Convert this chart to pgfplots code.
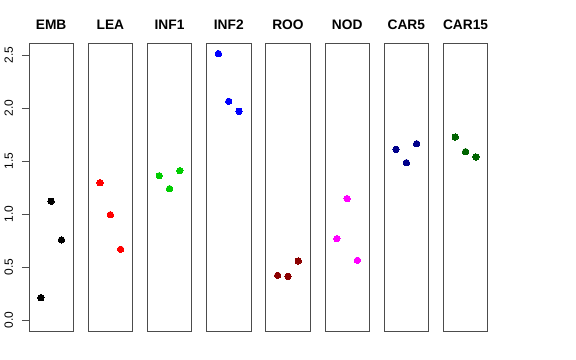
\documentclass[border=0pt]{standalone}
\usepackage{pgfplots}
\pgfplotsset{compat=1.18}
\usepackage{fontspec}
\setmainfont{Liberation Sans}
\definecolor{cblack}{HTML}{000000}
\definecolor{cred}{HTML}{FF0000}
\definecolor{cgreen}{HTML}{00CD00}
\definecolor{cblue}{HTML}{0000FF}
\definecolor{cdarkred}{HTML}{8B0000}
\definecolor{cmagenta}{HTML}{FF00FF}
\definecolor{cnavy}{HTML}{00008B}
\definecolor{cdkgreen}{HTML}{006400}
\pgfplotsset{panel/.style={scale only axis, width=44.5bp, height=288bp,
  xmin=-0.16, xmax=4.16, ymin=-0.104, ymax=2.613, xtick=\empty, ytick=\empty,
  anchor=south west, axis line style={line width=0.8bp, black!70},
  title style={at={(0.5,1)}, anchor=base, yshift=8bp, font=\bfseries\fontsize{13.8}{16}\selectfont}},
  pts/.style={only marks, mark=*, mark size=3.2bp, color=#1, mark options={draw=#1, fill=#1, line width=0pt}}}
\begin{document}
\begin{tikzpicture}
\path[use as bounding box] (0bp,0bp) rectangle (576bp,360bp);
\begin{axis}[panel, at={(28.9bp,29bp)}, title={EMB},
  ytick={0,0.5,1,1.5,2,2.5}, ytick pos=left, tick align=outside, major tick length=7bp,
  ytick style={black!70, line width=0.8bp},
  /pgf/number format/.cd, fixed, fixed zerofill, precision=1, assume math mode=true, /pgfplots/.cd,
  yticklabel style={xshift=-9bp, rotate=90, anchor=base, font=\fontsize{12}{14}\selectfont}]
\addplot[pts=cblack] coordinates {(1,0.21) (2,1.12) (3,0.755)};
\end{axis}
\begin{axis}[panel, at={(88.1bp,29bp)}, title={LEA}]
\addplot[pts=cred] coordinates {(1,1.295) (2,0.993) (3,0.667)};
\end{axis}
\begin{axis}[panel, at={(147.3bp,29bp)}, title={INF1}]
\addplot[pts=cgreen] coordinates {(1,1.361) (2,1.239) (3,1.409)};
\end{axis}
\begin{axis}[panel, at={(206.5bp,29bp)}, title={INF2}]
\addplot[pts=cblue] coordinates {(1,2.513) (2,2.063) (3,1.969)};
\end{axis}
\begin{axis}[panel, at={(265.7bp,29bp)}, title={ROO}]
\addplot[pts=cdarkred] coordinates {(1,0.421) (2,0.412) (3,0.557)};
\end{axis}
\begin{axis}[panel, at={(324.9bp,29bp)}, title={NOD}]
\addplot[pts=cmagenta] coordinates {(1,0.767) (2,1.145) (3,0.563)};
\end{axis}
\begin{axis}[panel, at={(384.1bp,29bp)}, title={CAR5}]
\addplot[pts=cnavy] coordinates {(1,1.610) (2,1.484) (3,1.663)};
\end{axis}
\begin{axis}[panel, at={(443.3bp,29bp)}, title={CAR15}]
\addplot[pts=cdkgreen] coordinates {(1,1.726) (2,1.588) (3,1.538)};
\end{axis}
\end{tikzpicture}
\end{document}
